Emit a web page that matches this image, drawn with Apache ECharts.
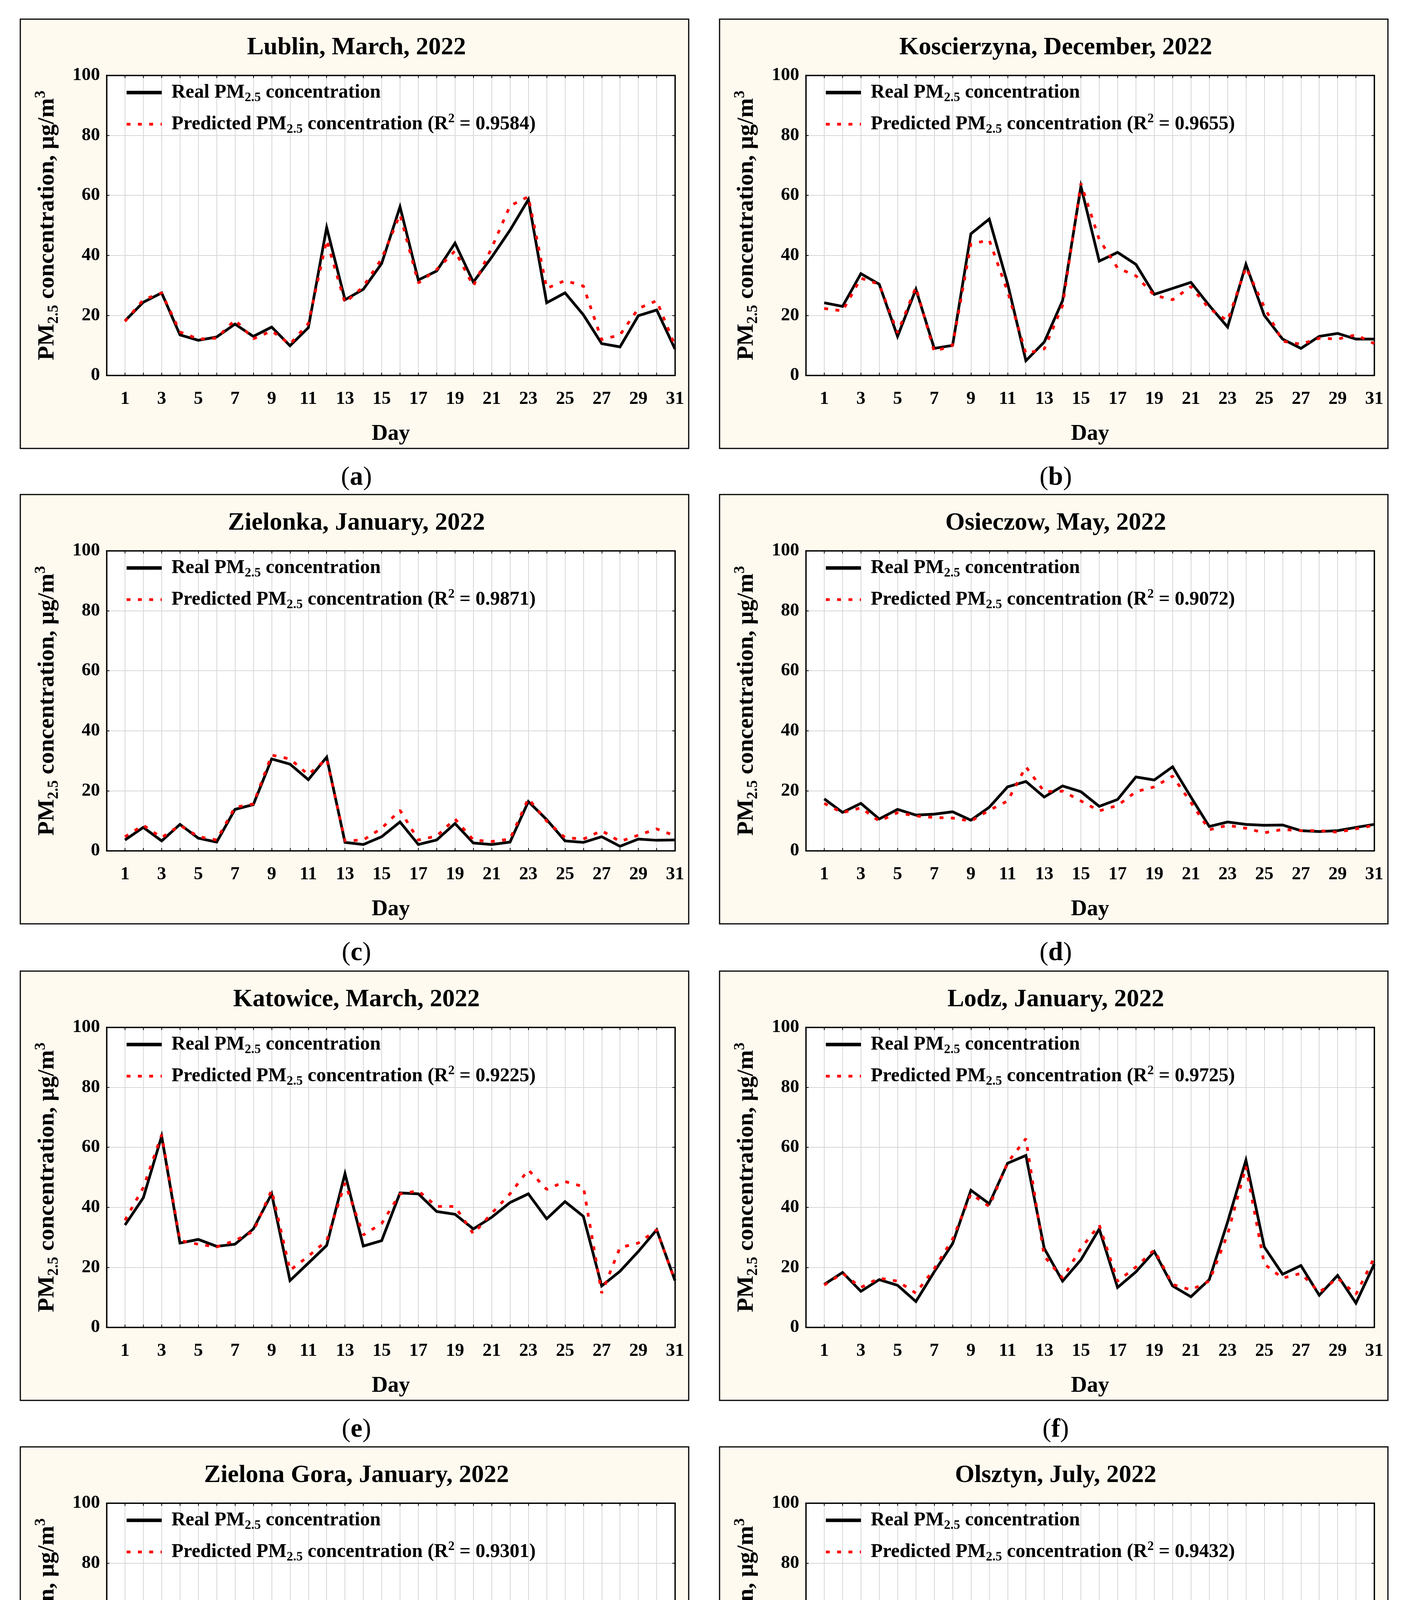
<!DOCTYPE html>
<html>
<head>
<meta charset="utf-8">
<script src="https://cdn.jsdelivr.net/npm/echarts@6/dist/echarts.min.js"></script>
<style>
html,body{margin:0;padding:0;background:#ffffff;}
#chart{width:3589px;height:4957px;}
</style>
</head>
<body>
<div id="chart"></div>
<script>
// ---------- DATA ----------
const days = [1,2,3,4,5,6,7,8,9,10,11,12,13,14,15,16,17,18,19,20,21,22,23,24,25,26,27,28,29,30,31];
const dayTickLabels = [1,3,5,7,9,11,13,15,17,19,21,23,25,27,29,31];
const yTickValues = [0,20,40,60,80,100];

const panelTitles = ['Lublin, March, 2022','Koscierzyna, December, 2022','Zielonka, January, 2022','Osieczow, May, 2022',
                     'Katowice, March, 2022','Lodz, January, 2022','Zielona Gora, January, 2022','Olsztyn, July, 2022'];
const panelLetters = ['a','b','c','d','e','f','g','h'];
const r2Values = ['0.9584','0.9655','0.9871','0.9072','0.9225','0.9725','0.9301','0.9432'];

const lublinReal = [18.2,24.4,27.5,13.5,11.7,12.8,17.1,13.0,16.1,9.9,15.9,49.3,25.2,28.7,37.3,56.2,31.8,34.8,44.1,31.1,39.4,48.4,58.6,24.2,27.5,20.2,10.6,9.5,19.9,21.8,8.8];
const lublinPred = [18.0,25.2,27.5,14.5,12.1,12.4,18.5,12.2,14.8,10.4,17.3,45.1,24.2,29.6,38.9,53.6,30.8,35.3,41.5,29.8,42.5,56.5,59.6,29.0,31.6,29.8,11.9,13.5,22.3,24.9,9.9];

const koscierzynaReal = [24.2,23.0,33.9,30.4,13.0,28.7,9.0,10.0,47.2,52.1,30.6,4.9,11.1,24.9,63.0,38.1,41.0,37.0,27.0,29.0,31.0,23.3,16.1,37.0,20.0,12.1,9.0,13.0,14.0,12.1,12.1];
const koscierzynaPred = [22.3,21.5,32.4,30.4,14.2,29.4,8.0,10.0,43.8,45.1,28.0,7.3,8.8,23.3,64.0,45.3,35.8,33.2,26.7,25.2,29.6,22.3,18.2,36.0,22.8,11.4,10.4,12.4,12.1,13.5,10.6];

const zielonkaReal = [3.6,7.8,3.3,8.8,4.2,2.9,13.8,15.4,30.6,28.9,23.7,31.2,2.8,2.1,4.7,9.6,2.1,3.6,9.1,2.6,2.1,2.9,16.4,10.4,3.3,2.8,4.7,1.5,3.9,3.5,3.6];
const zielonkaPred = [4.7,8.5,4.4,8.5,4.7,3.6,14.5,15.6,31.9,30.6,25.4,30.6,3.3,3.6,7.5,13.5,3.6,4.9,10.6,3.6,3.1,3.9,17.4,9.9,4.4,3.9,6.7,3.1,5.2,7.3,5.0];

const osieczowReal = [17.3,12.8,15.8,10.6,13.8,11.9,12.2,13.0,10.2,14.5,21.3,23.1,17.9,21.6,19.7,14.8,17.1,24.6,23.6,28.0,17.9,8.1,9.6,8.8,8.5,8.6,6.7,6.4,6.7,7.8,8.8];
const osieczowPred = [15.8,12.7,14.3,9.9,12.7,11.6,11.1,10.9,9.9,13.5,16.6,28.0,19.7,19.9,16.6,13.3,15.1,19.7,21.3,24.9,16.1,7.0,8.5,7.5,6.0,7.1,6.7,6.7,6.2,7.3,8.5];

const katowiceReal = [34.1,43.2,63.7,28.1,29.3,27.0,27.7,32.8,44.5,15.6,21.4,27.3,51.2,27.1,28.9,44.8,44.5,38.6,37.7,32.8,36.7,41.6,44.5,36.2,41.9,37.0,13.8,18.7,25.3,32.5,15.6];
const katowicePred = [35.7,46.6,64.2,28.9,27.7,26.8,28.9,32.0,45.7,19.0,23.7,28.9,48.1,30.8,34.6,44.5,45.5,40.3,40.3,31.2,38.0,44.5,52.5,46.0,48.6,46.9,11.4,26.6,28.1,32.5,15.4];

const lodzReal = [14.3,18.3,12.0,15.9,14.0,8.6,18.5,27.9,45.7,41.2,54.7,57.3,26.3,15.4,22.5,32.8,13.3,18.5,25.3,13.8,10.2,15.9,35.1,55.7,26.8,17.7,20.6,10.7,17.3,8.1,21.1];
const lodzPred = [14.1,18.0,13.3,16.4,15.4,11.4,19.5,29.4,44.5,40.3,54.9,62.9,23.7,16.4,26.3,34.1,15.4,20.1,25.8,14.3,12.5,15.4,31.0,53.6,21.1,16.4,18.0,11.7,16.4,11.0,23.2];

const zielonaGoraReal = [11.3,9.0,6.9,7.2,4.4,6.2,10.9,13.8,21.9,43.0,38.9,34.1,17.3,10.4,11.3,14.3,6.9,12.3,8.5,5.4,5.6,10.4,10.8,10.1,8.1,7.4,12.3,7.2,5.6,9.0,13.1];
const zielonaGoraPred = [10.4,8.8,7.4,6.9,6.4,7.5,13.1,14.4,22.1,47.0,43.8,40.1,20.0,13.8,14.9,21.0,12.0,17.3,9.9,7.2,7.4,11.3,11.3,10.4,8.5,8.1,12.7,9.3,9.9,13.4,27.4];

const olsztynReal = [12.5,5.3,5.3,8.5,5.3,4.2,5.4,5.1,4.6,3.5,3.4,4.6,6.2,5.6,3.8,4.0,4.0,5.8,10.2,10.4,11.9,17.3,10.9,4.8,7.4,10.1,4.2,4.8,5.6,7.2,4.0];
const olsztynPred = [13.1,5.4,5.6,8.3,5.6,4.8,6.5,5.1,5.1,4.2,4.0,4.9,6.2,6.4,4.6,4.2,4.2,5.9,9.6,9.1,11.7,14.4,9.1,4.6,7.2,9.6,6.2,5.9,7.4,7.7,5.3];

// ---------- BUILD ----------
const realSets = [lublinReal,koscierzynaReal,zielonkaReal,osieczowReal,katowiceReal,lodzReal,zielonaGoraReal,olsztynReal];
const predSets = [lublinPred,koscierzynaPred,zielonkaPred,osieczowPred,katowicePred,lodzPred,zielonaGoraPred,olsztynPred];

const FONT = '"Liberation Serif","Times New Roman",serif';
const colLeft = [52, 1842];
const rowTop = [49, 1266, 2486, 3704];
const boxW = 1711, boxH = 1099;
const PANEL_BG = '#fffaef';
const GRID_COLOR = '#d7d7d7';
const SOLID_ICON = 'path://M0,0h90v9h-90z';
const DOT_ICON = 'path://M0,1h10v7h-10z M29,1h10v7h-10z M58,1h10v7h-10z M87,1h3v7h-3z M0,0h0.01v9h-0.01z M89.99,0h0.01v9h-0.01z';

const grids = [], xAxes = [], yAxes = [], series = [], legends = [], graphics = [];

panelTitles.forEach((title, i) => {
  const bx = colLeft[i % 2], by = rowTop[Math.floor(i / 2)];
  graphics.push({type:'rect', silent:true, z:-10,
    shape:{x:bx, y:by, width:boxW, height:boxH},
    style:{fill:PANEL_BG, stroke:'#000', lineWidth:3}});
  graphics.push({type:'text', silent:true, z:10, x:bx + boxW/2 + 5, y:by + 73,
    style:{text:title, font:'bold 64px ' + FONT, fill:'#000', align:'center', verticalAlign:'middle'}});
  graphics.push({type:'text', silent:true, z:10, x:bx + boxW/2 + 5, y:by + 1174,
    style:{text:'{p|(}{b|' + panelLetters[i] + '}{p|)}', fill:'#000', align:'center', verticalAlign:'middle',
      rich:{p:{font:'68px ' + FONT, fill:'#000'}, b:{font:'bold 68px ' + FONT, fill:'#000'}}}});

  grids.push({left:bx + 221, top:by + 144, width:1455, height:768, show:true,
    backgroundColor:'#ffffff', borderColor:'#000', borderWidth:3});

  const tick = {show:true, inside:true, length:7, lineStyle:{color:'#000', width:2}};
  const axLine = {show:true, onZero:false, lineStyle:{color:'#000', width:3}};
  xAxes.push({gridIndex:i, type:'value', position:'bottom', min:0, max:31, interval:1,
    axisLine:axLine, axisTick:tick,
    axisLabel:{show:true, margin:36, fontSize:47, lineHeight:50, fontWeight:'bold', fontFamily:FONT, color:'#000',
      showMinLabel:true, showMaxLabel:true,
      formatter: v => dayTickLabels.indexOf(v) >= 0 ? String(v) : ''},
    splitLine:{show:true, lineStyle:{color:GRID_COLOR, width:2}},
    name:'Day', nameLocation:'middle', nameGap:120,
    nameTextStyle:{fontSize:57, lineHeight:60, fontWeight:'bold', fontFamily:FONT, color:'#000'}});
  xAxes.push({gridIndex:i, type:'value', position:'top', min:0, max:31, interval:1,
    axisLine:axLine, axisTick:tick, axisLabel:{show:false}, splitLine:{show:false}});
  yAxes.push({gridIndex:i, type:'value', position:'left', min:0, max:100, interval:20,
    axisLine:axLine, axisTick:tick,
    axisLabel:{show:true, margin:17, fontSize:47, fontWeight:'bold', fontFamily:FONT, color:'#000',
      formatter: v => yTickValues.indexOf(v) >= 0 ? String(v) : ''},
    splitLine:{show:true, lineStyle:{color:GRID_COLOR, width:2}},
    name:'PM{sub|2.5} concentration, μg/m{sup|3}', nameLocation:'middle', nameRotate:90, nameGap:116,
    nameTextStyle:{fontSize:60, lineHeight:72, fontWeight:'bold', fontFamily:FONT, color:'#000',
      rich:{sub:{fontSize:39, lineHeight:30, verticalAlign:'bottom', fontWeight:'bold', fontFamily:FONT, color:'#000'},
            sup:{fontSize:39, lineHeight:22, verticalAlign:'top', fontWeight:'bold', fontFamily:FONT, color:'#000'}}}});
  yAxes.push({gridIndex:i, type:'value', position:'right', min:0, max:100, interval:20,
    axisLine:axLine, axisTick:tick, axisLabel:{show:false}, splitLine:{show:false}});

  series.push({type:'line', name:'real' + i, xAxisIndex:2*i, yAxisIndex:2*i, symbol:'none', z:3,
    data: days.map((d, j) => [d, realSets[i][j]]),
    lineStyle:{color:'#000', width:7, join:'miter'}, itemStyle:{color:'#000'}});
  series.push({type:'line', name:'pred' + i, xAxisIndex:2*i, yAxisIndex:2*i, symbol:'none', z:4,
    data: days.map((d, j) => [d, predSets[i][j]]),
    lineStyle:{color:'#ff0000', width:7, type:[10,19], cap:'butt'}, itemStyle:{color:'#ff0000'}});

  const tStyle = {fontSize:50, lineHeight:60, fontWeight:'bold', fontFamily:FONT, color:'#000'};
  legends.push({orient:'vertical', left:bx + 267, top:by + 158, itemWidth:90, itemHeight:9, itemGap:21,
    selectedMode:false,
    data:[{name:'real' + i, icon:SOLID_ICON, itemStyle:{color:'#000'}},
          {name:'pred' + i, icon:DOT_ICON, itemStyle:{color:'#ff0000'}}],
    formatter: name => name.indexOf('real') === 0
      ? '{t|Real PM}{sub|2.5}{t| concentration}'
      : '{t|Predicted PM}{sub|2.5}{t| concentration (R}{sup|2}{t| = ' + r2Values[i] + ')}',
    textStyle:{fontSize:50, fontWeight:'bold', fontFamily:FONT, color:'#000', padding:[0,0,0,20],
      rich:{t:tStyle,
            sub:{fontSize:33, lineHeight:23, verticalAlign:'bottom', fontWeight:'bold', fontFamily:FONT, color:'#000'},
            sup:{fontSize:33, lineHeight:16, verticalAlign:'top', fontWeight:'bold', fontFamily:FONT, color:'#000'}}}});
});

const chart = echarts.init(document.getElementById('chart'), null, {renderer:'canvas'});
chart.setOption({
  animation:false,
  backgroundColor:'#ffffff',
  grid:grids, xAxis:xAxes, yAxis:yAxes, series:series, legend:legends, graphic:graphics
});
</script>
</body>
</html>
